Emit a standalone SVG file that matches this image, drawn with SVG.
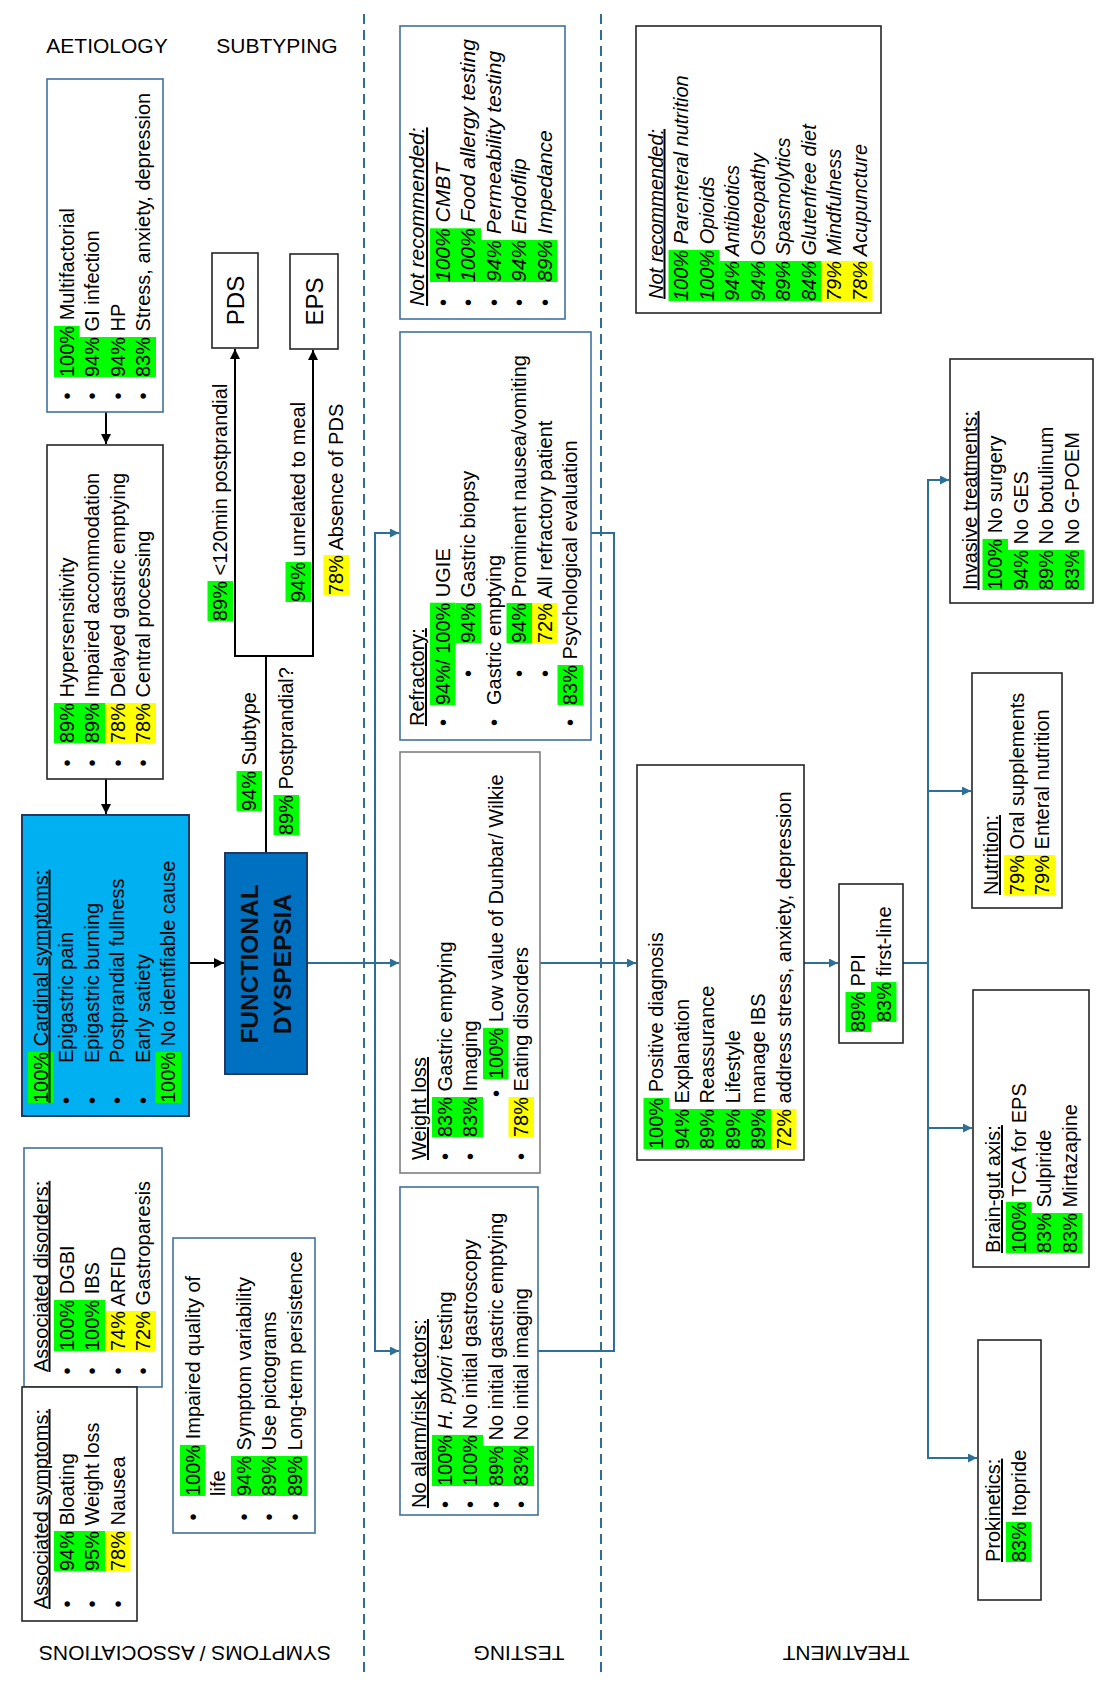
<svg xmlns="http://www.w3.org/2000/svg" width="1108" height="1695" viewBox="0 0 1108 1695">
<style>
text{font-family:"Liberation Sans",Arial,sans-serif;font-size:20px;fill:#000}
.i{font-style:italic}
.u{text-decoration:underline}
.hd{font-size:21px}
.s21{font-size:21px}
.fd{font-size:24.5px;font-weight:bold;fill:#0d0d0d}
.big{font-size:24px}
.g{fill:#00ff00}
.y{fill:#ffff00}
.bb{fill:#fff;stroke:#41719c;stroke-width:1.6}
.kb{fill:#fff;stroke:#262626;stroke-width:1.6}
.gb{fill:#fff;stroke:#7f7f7f;stroke-width:1.6}
.conn{stroke:#2e6f96;stroke-width:2;fill:none}
.blk{stroke:#000;stroke-width:2;fill:none}
.dash{stroke:#2e6f96;stroke-width:2;stroke-dasharray:10 6;fill:none}
</style>
<defs>
<marker id="ab" viewBox="0 0 10 10" refX="10" refY="5" markerWidth="10" markerHeight="9" markerUnits="userSpaceOnUse" orient="auto"><path d="M0,0 L10,5 L0,10 z" fill="#2e6f96"/></marker>
<marker id="ak" viewBox="0 0 10 10" refX="10" refY="5" markerWidth="11" markerHeight="10" markerUnits="userSpaceOnUse" orient="auto"><path d="M0,0 L10,5 L0,10 z" fill="#000"/></marker>
</defs>
<rect width="1108" height="1695" fill="#fff"/>

<g id="sections">
<line class="dash" x1="364" y1="14" x2="364" y2="1673"/>
<line class="dash" x1="601" y1="14" x2="601" y2="1673"/>
<text class="hd" x="107" y="53" text-anchor="middle">AETIOLOGY</text>
<text class="hd" x="277" y="53" text-anchor="middle">SUBTYPING</text>
<text class="hd" transform="translate(185,1646) rotate(180)" text-anchor="middle">SYMPTOMS / ASSOCIATIONS</text>
<text class="hd" transform="translate(519,1646) rotate(180)" text-anchor="middle">TESTING</text>
<text class="hd" transform="translate(846,1646) rotate(180)" text-anchor="middle">TREATMENT</text>
</g>

<g id="connectors">
<line class="blk" x1="106" y1="412" x2="106" y2="444" marker-end="url(#ak)"/>
<line class="blk" x1="106" y1="779" x2="106" y2="814" marker-end="url(#ak)"/>
<line class="blk" x1="189" y1="963" x2="224" y2="963" marker-end="url(#ak)"/>
<polyline class="blk" points="266,853 266,656"/>
<polyline class="blk" points="234,656 314,656"/>
<line class="blk" x1="235" y1="656" x2="235" y2="349" marker-end="url(#ak)"/>
<line class="blk" x1="313" y1="656" x2="313" y2="350" marker-end="url(#ak)"/>
<line class="conn" x1="307" y1="963" x2="399" y2="963" marker-end="url(#ab)"/>
<polyline class="conn" points="399,533 375,533 375,1351 399,1351" marker-end="url(#ab)"/>
<line class="conn" x1="375" y1="533" x2="399" y2="533" marker-end="url(#ab)"/>
<polyline class="conn" points="591,533 614,533 614,1351 538,1351"/>
<line class="conn" x1="540" y1="963" x2="636" y2="963" marker-end="url(#ab)"/>
<line class="conn" x1="804" y1="963" x2="838" y2="963" marker-end="url(#ab)"/>
<line class="conn" x1="903" y1="963" x2="928" y2="963"/>
<line class="conn" x1="928" y1="480" x2="928" y2="1458"/>
<line class="conn" x1="927" y1="480" x2="949" y2="480" marker-end="url(#ab)"/>
<line class="conn" x1="928" y1="791" x2="971" y2="791" marker-end="url(#ab)"/>
<line class="conn" x1="928" y1="1128" x2="972" y2="1128" marker-end="url(#ab)"/>
<line class="conn" x1="927" y1="1458" x2="977" y2="1458" marker-end="url(#ab)"/>
</g>

<g id="subtype-labels" transform="rotate(-90)">
<rect class="g" x="-621" y="207.5" width="40" height="25.5"/>
<text x="-621" y="227">89% &lt;120min postprandial</text>
<rect class="g" x="-602" y="285.5" width="40" height="25.5"/>
<text x="-602" y="305">94% unrelated to meal</text>
<rect class="y" x="-595" y="323.5" width="40" height="25.5"/>
<text x="-595" y="343">78% Absence of PDS</text>
<rect class="g" x="-811" y="236.5" width="40" height="25.5"/>
<text x="-811" y="256">94% Subtype</text>
<rect class="g" x="-835" y="273.5" width="40" height="25.5"/>
<text x="-835" y="293">89% Postprandial?</text>
</g>

<g id="aetiology">
<rect class="bb" x="47" y="79" width="116" height="333"/>
<g transform="rotate(-90)">
<rect class="g" x="-377" y="54" width="51.1" height="25.5"/>
<rect class="g" x="-377" y="79.5" width="40" height="76.5"/>
<text x="-399.5" y="73.5">•</text><text x="-377" y="73.5">100% Multifactorial</text>
<text x="-399.5" y="99">•</text><text x="-377" y="99">94% GI infection</text>
<text x="-399.5" y="124.5">•</text><text x="-377" y="124.5">94% HP</text>
<text x="-399.5" y="150">•</text><text x="-377" y="150">83% Stress, anxiety, depression</text>
</g>
</g>

<g id="mechanisms">
<rect class="kb" x="47" y="445" width="116" height="334"/>
<g transform="rotate(-90)">
<rect class="g" x="-743" y="54" width="40" height="51"/>
<rect class="y" x="-743" y="105" width="40" height="51"/>
<text x="-766.5" y="73.5">•</text><text x="-743" y="73.5">89% Hypersensitivity</text>
<text x="-766.5" y="99">•</text><text x="-743" y="99">89% Impaired accommodation</text>
<text x="-766.5" y="124.5">•</text><text x="-743" y="124.5">78% Delayed gastric emptying</text>
<text x="-766.5" y="150">•</text><text x="-743" y="150">78% Central processing</text>
</g>
</g>

<g id="cardinal">
<rect x="22" y="815" width="167" height="301" fill="#00b0f0" stroke="#1f3864" stroke-width="2"/>
<g transform="rotate(-90)">
<rect class="g" x="-1103" y="28" width="51.1" height="25.5"/>
<rect class="g" x="-1103" y="155.5" width="51.1" height="25.5"/>
<text class="u" x="-1103" y="47.5">100% Cardinal symptoms:</text>
<text x="-1104" y="73">•</text><text x="-1063" y="73">Epigastric pain</text>
<text x="-1104" y="98.5">•</text><text x="-1063" y="98.5">Epigastric burning</text>
<text x="-1104" y="124">•</text><text x="-1063" y="124">Postprandial fullness</text>
<text x="-1104" y="149.5">•</text><text x="-1063" y="149.5">Early satiety</text>
<text x="-1103" y="175">100% No identifiable cause</text>
</g>
</g>

<g id="functional-dyspepsia">
<rect x="225" y="853" width="82" height="221" fill="#0070c0" stroke="#1f3864" stroke-width="2"/>
<g transform="rotate(-90)">
<text class="fd" x="-964" y="258" text-anchor="middle">FUNCTIONAL</text>
<text class="fd" x="-964" y="291" text-anchor="middle">DYSPEPSIA</text>
</g>
</g>

<g id="pds">
<rect class="kb" x="212" y="253" width="46" height="95"/>
<text class="big" transform="rotate(-90)" x="-300.5" y="244" text-anchor="middle">PDS</text>
</g>
<g id="eps">
<rect class="kb" x="290" y="254" width="48" height="95"/>
<text class="big" transform="rotate(-90)" x="-301.5" y="323" text-anchor="middle">EPS</text>
</g>

<g id="associated-disorders">
<rect class="bb" x="24" y="1148" width="138" height="239"/>
<g transform="rotate(-90)">
<rect class="g" x="-1351" y="54" width="51.1" height="51"/>
<rect class="y" x="-1351" y="105" width="40" height="51"/>
<text class="u" x="-1372" y="47.5">Associated disorders:</text>
<text x="-1374.5" y="73.5">•</text><text x="-1351" y="73.5">100% DGBI</text>
<text x="-1374.5" y="99">•</text><text x="-1351" y="99">100% IBS</text>
<text x="-1374.5" y="124.5">•</text><text x="-1351" y="124.5">74% ARFID</text>
<text x="-1374.5" y="150">•</text><text x="-1351" y="150">72% Gastroparesis</text>
</g>
</g>

<g id="associated-symptoms">
<rect class="kb" x="22" y="1387" width="115" height="234"/>
<g transform="rotate(-90)">
<rect class="g" x="-1571" y="54" width="40" height="51"/>
<rect class="y" x="-1571" y="105" width="40" height="25.5"/>
<text class="u" x="-1609" y="47.5">Associated symptoms:</text>
<text x="-1607.5" y="73.5">•</text><text x="-1571" y="73.5">94% Bloating</text>
<text x="-1607.5" y="99">•</text><text x="-1571" y="99">95% Weight loss</text>
<text x="-1607.5" y="124.5">•</text><text x="-1571" y="124.5">78% Nausea</text>
</g>
</g>

<g id="quality-of-life">
<rect class="bb" x="173" y="1238" width="142" height="295"/>
<g transform="rotate(-90)">
<rect class="g" x="-1496" y="180" width="51.1" height="25.5"/>
<rect class="g" x="-1496" y="231" width="40" height="76.5"/>
<text x="-1520.5" y="199.5">•</text><text x="-1496" y="199.5">100% Impaired quality of</text>
<text x="-1496" y="225">life</text>
<text x="-1520.5" y="250.5">•</text><text x="-1496" y="250.5">94% Symptom variability</text>
<text x="-1520.5" y="276">•</text><text x="-1496" y="276">89% Use pictograms</text>
<text x="-1520.5" y="301.5">•</text><text x="-1496" y="301.5">89% Long-term persistence</text>
</g>
</g>

<g id="testing-not-recommended">
<rect class="bb" x="400" y="26" width="165" height="293"/>
<g transform="rotate(-90)">
<rect class="g" x="-282" y="430" width="53.7" height="51"/>
<rect class="g" x="-282" y="481" width="42" height="76.5"/>
<text class="i u s21" x="-306" y="424">Not recommended:</text>
<text x="-306" y="449.5">•</text><text class="i s21" x="-282" y="449.5">100% CMBT</text>
<text x="-306" y="475">•</text><text class="i s21" x="-282" y="475">100% Food allergy testing</text>
<text x="-306" y="500.5">•</text><text class="i s21" x="-282" y="500.5">94% Permeability testing</text>
<text x="-306" y="526">•</text><text class="i s21" x="-282" y="526">94% Endoflip</text>
<text x="-306" y="551.5">•</text><text class="i s21" x="-282" y="551.5">89% Impedance</text>
</g>
</g>

<g id="refractory">
<rect class="bb" x="400" y="332" width="191" height="408"/>
<g transform="rotate(-90)">
<rect class="g" x="-705" y="430" width="102.3" height="25.5"/>
<rect class="g" x="-643" y="455.5" width="40" height="25.5"/>
<rect class="g" x="-643" y="506.5" width="40" height="25.5"/>
<rect class="y" x="-643" y="532" width="40" height="25.5"/>
<rect class="g" x="-705" y="557.5" width="40" height="25.5"/>
<text class="u" x="-726" y="424">Refractory:</text>
<text x="-726" y="449.5">•</text><text x="-705" y="449.5">94%/ 100% UGIE</text>
<text x="-677" y="475">•</text><text x="-643" y="475">94% Gastric biopsy</text>
<text x="-726" y="500.5">•</text><text x="-705" y="500.5">Gastric emptying</text>
<text x="-677" y="526">•</text><text x="-643" y="526">94% Prominent nausea/vomiting</text>
<text x="-677" y="551.5">•</text><text x="-643" y="551.5">72% All refractory patient</text>
<text x="-726" y="577">•</text><text x="-705" y="577">83% Psychological evaluation</text>
</g>
</g>

<g id="weight-loss">
<rect class="gb" x="400" y="752" width="140" height="421"/>
<g transform="rotate(-90)">
<rect class="g" x="-1137" y="432" width="40" height="51"/>
<rect class="g" x="-1079" y="483" width="51.1" height="25.5"/>
<rect class="y" x="-1137" y="508.5" width="40" height="25.5"/>
<text class="u" x="-1160" y="426">Weight loss</text>
<text x="-1160" y="451.5">•</text><text x="-1137" y="451.5">83% Gastric emptying</text>
<text x="-1160" y="477">•</text><text x="-1137" y="477">83% Imaging</text>
<text x="-1097" y="502.5">•</text><text x="-1079" y="502.5">100% Low value of Dunbar/ Wilkie</text>
<text x="-1160" y="528">•</text><text x="-1137" y="528">78% Eating disorders</text>
</g>
</g>

<g id="no-alarm">
<rect class="bb" x="400" y="1187" width="138" height="328"/>
<g transform="rotate(-90)">
<rect class="g" x="-1486" y="432" width="51.1" height="51"/>
<rect class="g" x="-1486" y="483" width="40" height="51"/>
<text class="u" x="-1508" y="426">No alarm/risk factors:</text>
<text x="-1508" y="451.5">•</text><text x="-1486" y="451.5">100% <tspan class="i">H. pylori</tspan> testing</text>
<text x="-1508" y="477">•</text><text x="-1486" y="477">100% No initial gastroscopy</text>
<text x="-1508" y="502.5">•</text><text x="-1486" y="502.5">89% No initial gastric emptying</text>
<text x="-1508" y="528">•</text><text x="-1486" y="528">83% No initial imaging</text>
</g>
</g>

<g id="treatment-not-recommended">
<rect class="kb" x="636" y="26" width="245" height="287"/>
<g transform="rotate(-90)">
<rect class="g" x="-301" y="668.5" width="51.1" height="51"/>
<rect class="g" x="-301" y="719.5" width="40" height="102"/>
<rect class="y" x="-301" y="821.5" width="40" height="51"/>
<text class="i u" x="-299" y="662.5">Not recommended:</text>
<text class="i" x="-301" y="688">100% Parenteral nutrition</text>
<text class="i" x="-301" y="713.5">100% Opioids</text>
<text class="i" x="-301" y="739">94% Antibiotics</text>
<text class="i" x="-301" y="764.5">94% Osteopathy</text>
<text class="i" x="-301" y="790">89% Spasmolytics</text>
<text class="i" x="-301" y="815.5">84% Glutenfree diet</text>
<text class="i" x="-301" y="841">79% Mindfulness</text>
<text class="i" x="-301" y="866.5">78% Acupuncture</text>
</g>
</g>

<g id="positive-diagnosis">
<rect class="kb" x="637" y="765" width="167" height="395"/>
<g transform="rotate(-90)">
<rect class="g" x="-1149" y="643.5" width="51.1" height="25.5"/>
<rect class="g" x="-1149" y="669" width="40" height="102"/>
<rect class="y" x="-1149" y="771" width="40" height="25.5"/>
<text x="-1149" y="663">100% Positive diagnosis</text>
<text x="-1149" y="688.5">94% Explanation</text>
<text x="-1149" y="714">89% Reassurance</text>
<text x="-1149" y="739.5">89% Lifestyle</text>
<text x="-1149" y="765">89% manage IBS</text>
<text x="-1149" y="790.5">72% address stress, anxiety, depression</text>
</g>
</g>

<g id="ppi">
<rect class="kb" x="839" y="884" width="64" height="159"/>
<g transform="rotate(-90)">
<rect class="g" x="-1032" y="845.5" width="40" height="25.5"/>
<rect class="g" x="-1022" y="871" width="40" height="25.5"/>
<text x="-1032" y="865">89% PPI</text>
<text x="-1022" y="890.5">83% first-line</text>
</g>
</g>

<g id="invasive">
<rect class="kb" x="950" y="359" width="143" height="244"/>
<g transform="rotate(-90)">
<rect class="g" x="-590" y="982.5" width="51.1" height="25.5"/>
<rect class="g" x="-590" y="1008" width="40" height="76.5"/>
<text class="u" x="-590" y="976.5">Invasive treatments:</text>
<text x="-590" y="1002">100% No surgery</text>
<text x="-590" y="1027.5">94% No GES</text>
<text x="-590" y="1053">89% No botulinum</text>
<text x="-590" y="1078.5">83% No G-POEM</text>
</g>
</g>

<g id="nutrition">
<rect class="kb" x="972" y="673" width="90" height="235"/>
<g transform="rotate(-90)">
<rect class="y" x="-895" y="1004" width="40" height="51"/>
<text class="u" x="-895" y="998">Nutrition:</text>
<text x="-895" y="1023.5">79% Oral supplements</text>
<text x="-895" y="1049">79% Enteral nutrition</text>
</g>
</g>

<g id="brain-gut">
<rect class="kb" x="973" y="990" width="116" height="277"/>
<g transform="rotate(-90)">
<rect class="g" x="-1253" y="1006" width="51.1" height="25.5"/>
<rect class="g" x="-1253" y="1031.5" width="40" height="51"/>
<text class="u" x="-1253" y="1000">Brain-gut axis:</text>
<text x="-1253" y="1025.5">100% TCA for EPS</text>
<text x="-1253" y="1051">83% Sulpiride</text>
<text x="-1253" y="1076.5">83% Mirtazapine</text>
</g>
</g>

<g id="prokinetics">
<rect class="kb" x="978" y="1340" width="63" height="260"/>
<g transform="rotate(-90)">
<rect class="g" x="-1562" y="1006" width="40" height="25.5"/>
<text class="u" x="-1562" y="1000">Prokinetics:</text>
<text x="-1562" y="1025.5">83% Itopride</text>
</g>
</g>
</svg>
